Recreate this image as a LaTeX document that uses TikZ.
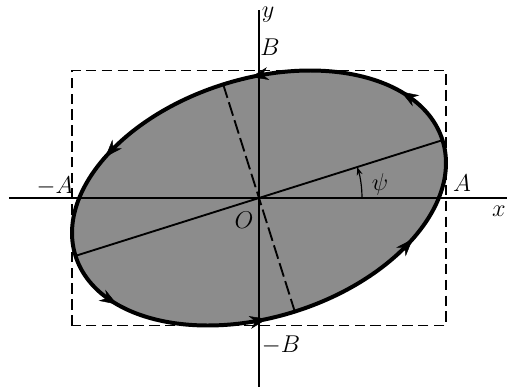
\documentclass[tikz,border=0pt]{standalone}
\usetikzlibrary{arrows.meta}

\newcommand{\psiang}{17.5}
\newcommand{\semia}{192.4}
\newcommand{\semib}{119.1}

\begin{document}
\begin{tikzpicture}[
  x=0.03cm, y=0.03cm,
  font=\LARGE,
  axis/.style={line width=1.1pt},
  bbox/.style={line width=1.2pt, dash pattern=on 9pt off 4.5pt},
  orbit/.style={line width=3.4pt},
  orbitfill/.style={fill=black!45},
  major/.style={line width=1.6pt},
  minor/.style={line width=1.6pt, dash pattern=on 12pt off 4pt},
  tip/.style={-{Stealth[length=15pt,width=11pt]}, line width=0.4pt},
  lbl/.style={inner sep=0pt, scale=1.2}
]
  \useasboundingbox (-259,-189) rectangle (248,198);

  % Ellipse (filled) and its bounding rectangle
  \fill[orbitfill, rotate=\psiang] (0,0) ellipse ({\semia} and {\semib});
  \draw[bbox] (-187,-127.5) rectangle (187,127.5);

  % Axes
  \coordinate (xl) at (-250,0);
  \coordinate (xr) at (248,0);
  \coordinate (yt) at (0,188);
  \coordinate (yb) at (0,-189);
  \draw[axis] (xl) -- (xr);
  \draw[axis] (yt) -- (yb);

  % Principal axes of the ellipse
  \coordinate (O) at (0,0);
  \coordinate (majR) at (\psiang:\semia);
  \coordinate (majL) at (\psiang+180:\semia);
  \coordinate (minT) at (\psiang+90:\semib);
  \coordinate (minB) at (\psiang-90:\semib);
  \draw[major] (majL) -- (majR);
  \draw[minor] (minT) -- (minB);

  % Outline and direction of travel
  \draw[orbit, rotate=\psiang] (0,0) ellipse ({\semia} and {\semib});
  \foreach \t in {28.4, 80.3, 133.1, 208.4, 260.3, 313.1}
    \draw[tip, rotate=\psiang] ({\semia*cos(\t)},{\semib*sin(\t)})
      -- ++({-\semia*sin(\t)*0.02},{\semib*cos(\t)*0.02});

  % Angle psi
  \draw[-{Stealth[length=7pt,width=5pt]}, line width=1pt] (103,0) arc (0:\psiang:103);

  % Labels
  \node[lbl] (lbly) at (9,183) {$y$};
  \node[lbl] (lblB) at (11,151) {$B$};
  \node[lbl] (lblmB) at (22,-147) {$-B$};
  \node[lbl] (lblA) at (203,15) {$A$};
  \node[lbl] (lblmA) at (-204,12) {$-A$};
  \node[lbl] (lblx) at (240,-13) {$x$};
  \node[lbl] (lblO) at (-15,-22) {$O$};
  \node[lbl] (lblpsi) at (121,14) {$\psi$};
\end{tikzpicture}
\end{document}
